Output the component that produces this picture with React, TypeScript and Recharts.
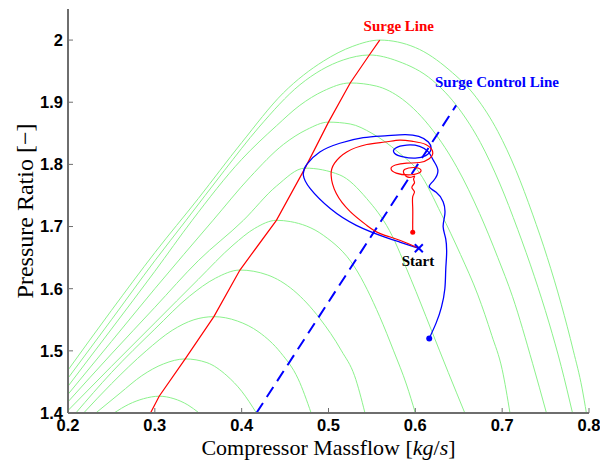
import { ComposedChart, Line, Scatter, XAxis, YAxis } from 'recharts';

// compressor speed lines (massflow, pressure ratio)
const speed1 = [[0.253, 1.4], [0.27, 1.414], [0.287, 1.423], [0.305, 1.427], [0.322, 1.423], [0.338, 1.413], [0.351, 1.4]];
const speed2 = [[0.232, 1.4], [0.26, 1.432], [0.285, 1.46], [0.31, 1.479], [0.335, 1.487], [0.36, 1.481], [0.383, 1.46], [0.4, 1.435], [0.417, 1.4]];
const speed3 = [[0.218, 1.4], [0.25, 1.447], [0.29, 1.5], [0.32, 1.533], [0.345, 1.55], [0.368, 1.555], [0.395, 1.548], [0.42, 1.53], [0.445, 1.497], [0.465, 1.455], [0.48, 1.4]];
const speed4 = [[0.209, 1.4], [0.25, 1.465], [0.3, 1.535], [0.34, 1.588], [0.37, 1.617], [0.398, 1.63], [0.43, 1.622], [0.46, 1.597], [0.49, 1.552], [0.515, 1.5], [0.53, 1.46], [0.542, 1.4]];
const speed5 = [[0.2, 1.404], [0.25, 1.475], [0.3, 1.545], [0.35, 1.615], [0.39, 1.67], [0.415, 1.697], [0.44, 1.71], [0.456, 1.708], [0.494, 1.686], [0.53, 1.635], [0.559, 1.555], [0.575, 1.5], [0.59, 1.445], [0.6, 1.4]];
const speed6 = [[0.2, 1.418], [0.25, 1.495], [0.3, 1.57], [0.35, 1.645], [0.402, 1.71], [0.44, 1.765], [0.473, 1.794], [0.513, 1.783], [0.544, 1.745], [0.57, 1.694], [0.595, 1.615], [0.618, 1.535], [0.638, 1.465], [0.657, 1.4]];
const speed7 = [[0.2, 1.43], [0.25, 1.515], [0.3, 1.6], [0.367, 1.71], [0.41, 1.78], [0.448, 1.832], [0.475, 1.856], [0.5, 1.868], [0.525, 1.865], [0.55, 1.85], [0.58, 1.82], [0.605, 1.786], [0.63, 1.72], [0.652, 1.655], [0.672, 1.59], [0.688, 1.525], [0.7, 1.47], [0.709, 1.4]];
const speed8 = [[0.2, 1.443], [0.25, 1.535], [0.3, 1.628], [0.343, 1.71], [0.4, 1.808], [0.44, 1.862], [0.467, 1.895], [0.494, 1.918], [0.525, 1.931], [0.555, 1.926], [0.585, 1.905], [0.62, 1.855], [0.648, 1.795], [0.674, 1.721], [0.695, 1.65], [0.712, 1.587], [0.735, 1.48], [0.751, 1.4]];
const speed9 = [[0.2, 1.456], [0.25, 1.55], [0.3, 1.645], [0.336, 1.71], [0.38, 1.79], [0.42, 1.86], [0.467, 1.928], [0.517, 1.968], [0.547, 1.976], [0.58, 1.966], [0.62, 1.935], [0.65, 1.89], [0.675, 1.835], [0.697, 1.77], [0.718, 1.695], [0.737, 1.62], [0.754, 1.545], [0.768, 1.475], [0.781, 1.4]];
const speed10 = [[0.2, 1.469], [0.25, 1.565], [0.3, 1.658], [0.35, 1.745], [0.4, 1.835], [0.448, 1.915], [0.494, 1.966], [0.528, 1.99], [0.559, 2.0], [0.6, 1.988], [0.639, 1.952], [0.67, 1.908], [0.695, 1.853], [0.716, 1.79], [0.735, 1.72], [0.752, 1.65], [0.768, 1.575], [0.782, 1.5], [0.792, 1.44], [0.797, 1.4]];

const surgeLine = [[0.295, 1.4], [0.305, 1.427], [0.335, 1.487], [0.368, 1.555], [0.398, 1.63], [0.44, 1.71], [0.473, 1.794], [0.5, 1.868], [0.525, 1.931], [0.547, 1.976], [0.559, 2.0]];
const controlLine = [[0.417, 1.4], [0.647, 1.895]];

// transient trajectories from the start point
const blueTraj = [
  [0.604, 1.665], [0.582, 1.675], [0.565, 1.683], [0.532, 1.702], [0.502, 1.729], [0.479, 1.761], [0.471, 1.783],
  [0.475, 1.8], [0.49, 1.82], [0.513, 1.834], [0.54, 1.843], [0.565, 1.846], [0.588, 1.848], [0.604, 1.845],
  [0.615, 1.836], [0.618, 1.824], [0.612, 1.814], [0.6, 1.81], [0.586, 1.812], [0.576, 1.818], [0.577, 1.826],
  [0.59, 1.831], [0.605, 1.829], [0.615, 1.82], [0.621, 1.806], [0.626, 1.79], [0.621, 1.774], [0.616, 1.764],
  [0.624, 1.755], [0.632, 1.74], [0.634, 1.72], [0.632, 1.7], [0.635, 1.68], [0.636, 1.655], [0.635, 1.63],
  [0.634, 1.6], [0.63, 1.57], [0.624, 1.545], [0.616, 1.52],
];
const redTraj = [
  [0.604, 1.665], [0.582, 1.678], [0.559, 1.689], [0.544, 1.702], [0.525, 1.724], [0.509, 1.753], [0.503, 1.783],
  [0.507, 1.802], [0.521, 1.82], [0.544, 1.832], [0.565, 1.836], [0.582, 1.839], [0.597, 1.837], [0.612, 1.832],
  [0.62, 1.82], [0.616, 1.809], [0.605, 1.803], [0.59, 1.802], [0.577, 1.799], [0.572, 1.793], [0.578, 1.786],
  [0.592, 1.783], [0.604, 1.786], [0.606, 1.792], [0.598, 1.795], [0.588, 1.792], [0.587, 1.785], [0.593, 1.779],
  [0.599, 1.781], [0.598, 1.776], [0.599, 1.77], [0.596, 1.763], [0.599, 1.756], [0.597, 1.748], [0.597, 1.73],
  [0.597, 1.71], [0.597, 1.691],
];

const startPoint = [[0.604, 1.665]];
const redEnd = [[0.597, 1.691]];
const blueEnd = [[0.616, 1.52]];

const xTicks = [0.2, 0.3, 0.4, 0.5, 0.6, 0.7, 0.8];
const yTicks = [1.4, 1.5, 1.6, 1.7, 1.8, 1.9, 2];

// text annotations placed at data coordinates (baseline centre)
const surgeLabel = [[0.581, 2.015]];
const controlLabel = [[0.694, 1.925]];
const startLabel = [[0.603, 1.637]];

const speedLines = [speed1, speed2, speed3, speed4, speed5, speed6, speed7, speed8, speed9, speed10];

const pts = (a: number[][]) => a.map(([x, y]) => ({ x, y }));

const GREEN = '#8cf28c';
const SERIF = '"Liberation Serif", "Times New Roman", serif';
const SANS = '"Liberation Sans", Arial, sans-serif';

const textShape = (label: string, color: string) => (p: any) => (
  <text x={p.cx} y={p.cy} textAnchor="middle" fill={color} fontFamily={SERIF} fontWeight="bold" fontSize={15}>
    {label}
  </text>
);

const XLabel = ({ viewBox }: any) => (
  <text x={viewBox.x + viewBox.width / 2} y={viewBox.y + 42} textAnchor="middle" fontFamily={SERIF} fontSize={22} fill="#000">
    Compressor Massflow [<tspan fontStyle="italic">kg</tspan>/<tspan fontStyle="italic">s</tspan>]
  </text>
);

const YLabel = ({ viewBox }: any) => {
  const x = viewBox.x + 23;
  const y = viewBox.y + viewBox.height / 2;
  return (
    <text x={x} y={y} transform={`rotate(-90, ${x}, ${y})`} textAnchor="middle" fontFamily={SERIF} fontSize={24} fill="#000">
      Pressure Ratio [−]
    </text>
  );
};

export default function App() {
  const tickStyle = { fontSize: 16.5, fontWeight: 'bold', fill: '#000', fontFamily: SANS };
  return (
    <div style={{ position: 'absolute', left: 0, top: 0, background: '#fff' }}>
      <ComposedChart width={600} height={461} margin={{ top: 9, right: 11, bottom: 8, left: 10 }}>
        <XAxis
          dataKey="x"
          type="number"
          domain={[0.2, 0.8]}
          ticks={xTicks}
          allowDataOverflow
          tickFormatter={(v) => String(v)}
          tick={tickStyle}
          tickSize={-5}
          tickMargin={11}
          axisLine={{ stroke: '#6e6e6e', strokeWidth: 2 }}
          tickLine={{ stroke: '#6e6e6e' }}
          height={40}
          label={XLabel}
        />
        <YAxis
          dataKey="y"
          type="number"
          domain={[1.4, 2.05]}
          ticks={yTicks}
          allowDataOverflow
          tickFormatter={(v) => String(v)}
          tick={tickStyle}
          tickSize={-5}
          tickMargin={10}
          axisLine={{ stroke: '#6e6e6e', strokeWidth: 2 }}
          tickLine={{ stroke: '#6e6e6e' }}
          width={58}
          label={YLabel}
        />
        {speedLines.map((s, i) => (
          <Line key={i} data={pts(s)} dataKey="y" type="monotone" stroke={GREEN} strokeWidth={1} dot={false} activeDot={false} isAnimationActive={false} />
        ))}
        <Line data={pts(surgeLine)} dataKey="y" type="linear" stroke="#ff0000" strokeWidth={1.2} dot={false} activeDot={false} isAnimationActive={false} />
        <Line data={pts(controlLine)} dataKey="y" type="linear" stroke="#0000ff" strokeWidth={2} strokeDasharray="12 7" dot={false} activeDot={false} isAnimationActive={false} />
        <Line data={pts(blueTraj)} dataKey="y" type="natural" stroke="#0000ff" strokeWidth={1.3} dot={false} activeDot={false} isAnimationActive={false} />
        <Line data={pts(redTraj)} dataKey="y" type="natural" stroke="#ff0000" strokeWidth={1.2} dot={false} activeDot={false} isAnimationActive={false} />
        <Scatter data={pts(redEnd)} dataKey="y" fill="#ff0000" isAnimationActive={false} shape={(p: any) => <circle cx={p.cx} cy={p.cy} r={2.5} fill="#ff0000" />} />
        <Scatter data={pts(blueEnd)} dataKey="y" fill="#0000ff" isAnimationActive={false} shape={(p: any) => <circle cx={p.cx} cy={p.cy} r={3} fill="#0000ff" />} />
        <Scatter
          data={pts(startPoint)}
          dataKey="y"
          isAnimationActive={false}
          shape={(p: any) => (
            <g stroke="#0000ff" strokeWidth={2}>
              <line x1={p.cx - 4} y1={p.cy - 4} x2={p.cx + 4} y2={p.cy + 4} />
              <line x1={p.cx - 4} y1={p.cy + 4} x2={p.cx + 4} y2={p.cy - 4} />
            </g>
          )}
        />
        <Scatter data={pts(surgeLabel)} dataKey="y" isAnimationActive={false} shape={textShape('Surge Line', '#ff0000')} />
        <Scatter data={pts(controlLabel)} dataKey="y" isAnimationActive={false} shape={textShape('Surge Control Line', '#0000ff')} />
        <Scatter data={pts(startLabel)} dataKey="y" isAnimationActive={false} shape={textShape('Start', '#000')} />
      </ComposedChart>
    </div>
  );
}
